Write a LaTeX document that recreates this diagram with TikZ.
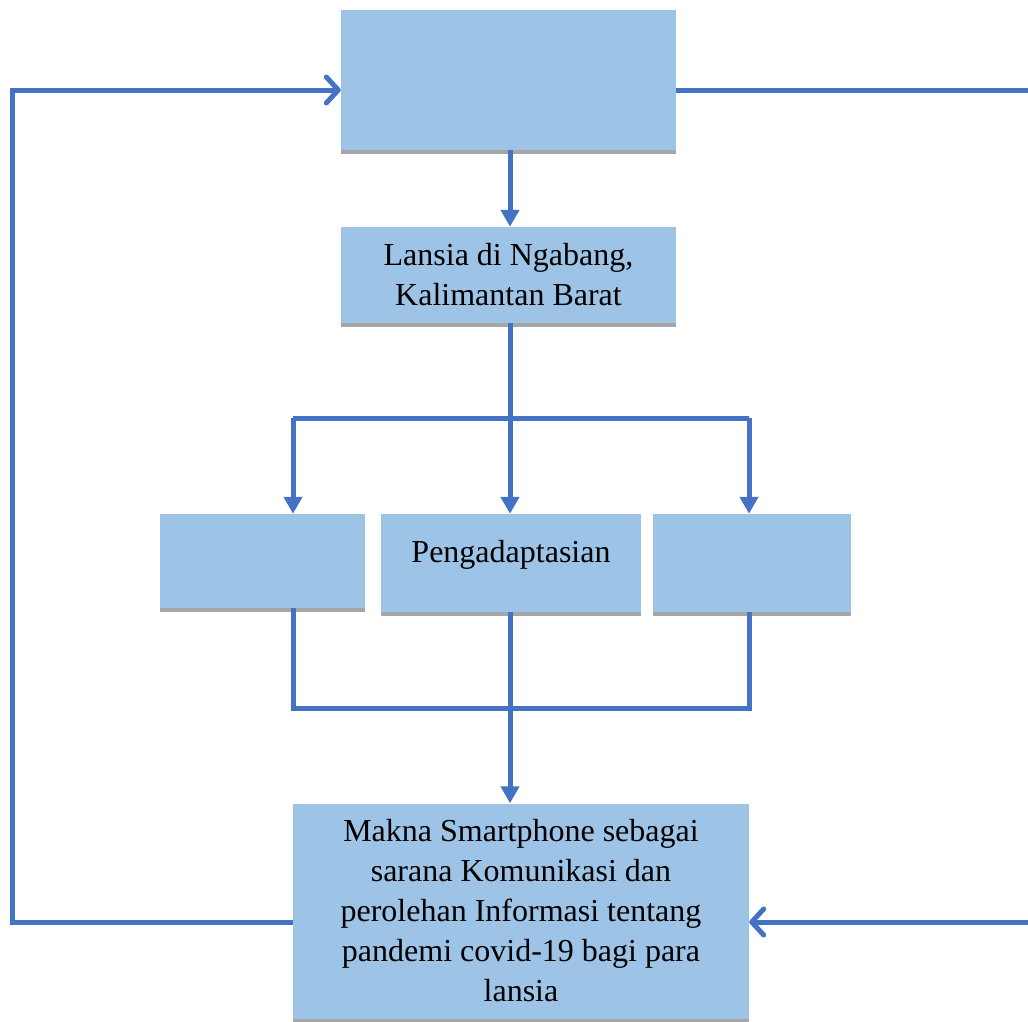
\documentclass[tikz,border=0pt]{standalone}
\usepackage{fontspec}
\setmainfont{Liberation Serif}
\usetikzlibrary{arrows.meta,shadows}
\definecolor{lineblue}{HTML}{4472C4}
\definecolor{boxfill}{HTML}{9DC3E6}
\definecolor{shadowgray}{HTML}{A6A6A6}
\tikzset{
  box/.style={rectangle, fill=boxfill, inner sep=0pt, align=center,
    general shadow={fill=shadowgray, shadow yshift=-4pt, shadow xshift=0pt},
    font=\fontsize{32}{40}\selectfont},
  conn/.style={draw=lineblue, line width=5pt},
  down/.style={conn, -{Triangle[length=17pt,width=18pt]}},
  barb/.style={conn, -{Straight Barb[length=12pt,width=26pt,line cap=round,line join=round]}},
}
\begin{document}
\begin{tikzpicture}[x=1pt,y=-1pt]
\useasboundingbox (0,0) rectangle (1028,1021);
\node[box, minimum width=335pt, minimum height=140pt] (top) at (508.5,80) {};
\node[box, minimum width=335pt, minimum height=96pt] (lansia) at (508.5,275) {Lansia di Ngabang,\\Kalimantan Barat};
\node[box, minimum width=205pt, minimum height=94pt] (left) at (262.5,561) {};
\node[box, minimum width=260pt, minimum height=98pt] (mid) at (511,563) {};
\node[anchor=base, font=\fontsize{32}{40}\selectfont, inner sep=0pt] (midtext) at (511,562) {Pengadaptasian};
\node[box, minimum width=198pt, minimum height=98pt] (right) at (752,563) {};
\node[box, minimum width=456pt, minimum height=215pt] (bottom) at (521,911) {Makna Smartphone sebagai\\sarana Komunikasi dan\\perolehan Informasi tentang\\pandemi covid-19 bagi para\\lansia};
% coordinates
\coordinate (bL) at (293,418);
\coordinate (bR) at (749,418);
\coordinate (mL) at (293,708);
\coordinate (mR) at (749,708);
\coordinate (fbL) at (12,922);
\coordinate (fbT) at (12,90);
\coordinate (rTop) at (1028,90);
\coordinate (rBot) at (1028,922);
% connectors
\draw[down] (top.south -| 510,0) -- (lansia.north -| 510,0);
\draw[conn] (lansia.south -| 510,0) -- (510,418);
\draw[down] (510,418) -- (mid.north -| 510,0);
\draw[conn] (bL) -- (bR);
\draw[down] (bL) -- (bL |- left.north);
\draw[down] (bR) -- (bR |- right.north);
\draw[conn] (left.south -| bL) -- (mL) -- (mR) -- (right.south -| bR);
\draw[down] (mid.south -| 510,0) -- (bottom.north -| 510,0);
\draw[barb] (bottom.west |- fbL) -- (fbL) -- (fbT) -- (top.west |- fbT);
\draw[conn] (top.east |- rTop) -- (rTop);
\draw[barb] (rBot) -- (bottom.east |- rBot);
\end{tikzpicture}
\end{document}
